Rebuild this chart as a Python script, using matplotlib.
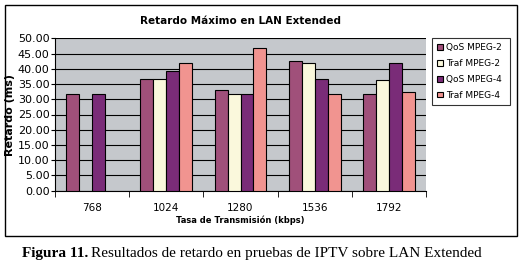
import matplotlib.pyplot as plt
import numpy as np

# Datos
tasas = ['768', '1024', '1280', '1536', '1792']
series = ['QoS MPEG-2', 'Traf MPEG-2', 'QoS MPEG-4', 'Traf MPEG-4']
qos_mpeg2 = [31.6, 36.5, 33.2, 42.7, 31.6]
traf_mpeg2 = [0.0, 36.5, 31.6, 41.9, 36.2]
qos_mpeg4 = [31.6, 39.2, 31.6, 36.6, 41.9]
traf_mpeg4 = [0.0, 41.8, 46.7, 31.6, 32.3]
colores = ['#A0507A', '#FAF8DC', '#7A2C78', '#F19490']

fig = plt.figure(figsize=(5.23, 2.69), dpi=100)
ax = fig.add_axes([55 / 523, 1 - 190.7 / 269, 371 / 523, 152.4 / 269])

# marco exterior del grafico
fig.patches.append(plt.Rectangle((5 / 523, 1 - 236 / 269), 512 / 523, 231 / 269,
                                 transform=fig.transFigure, fill=False,
                                 edgecolor='black', linewidth=1))

x = np.arange(len(tasas))
w = 0.175
for i, (vals, nombre) in enumerate(zip([qos_mpeg2, traf_mpeg2, qos_mpeg4, traf_mpeg4], series)):
    vals = np.array(vals)
    mask = vals > 0
    ax.bar(x[mask] + (i - 1.5) * w, vals[mask], width=w, color=colores[i],
           edgecolor='black', linewidth=0.8, label=nombre, zorder=3)

ax.set_facecolor('#C5C8CC')
ax.set_ylim(0, 50)
ax.set_xlim(-0.5, len(tasas) - 0.5)
ax.set_yticks(np.arange(0, 50.01, 5))
ax.set_yticklabels(['%.2f' % v for v in np.arange(0, 50.01, 5)], fontsize=8)
ax.yaxis.grid(True, color='black', linewidth=0.8, zorder=1)
ax.set_xticks(x)
ax.set_xticklabels(tasas, fontsize=7.5)
ax.tick_params(axis='x', length=0, pad=9)
ax.set_xticks(np.arange(-0.5, len(tasas), 1), minor=True)
ax.tick_params(axis='x', which='minor', length=4, direction='out')
ax.tick_params(axis='y', length=3, direction='out', pad=1)
for s in ['top', 'right']:
    ax.spines[s].set_visible(False)
ax.spines['left'].set_linewidth(0.8)
ax.spines['bottom'].set_linewidth(0.8)

ax.set_ylabel('Retardo (ms)', fontsize=8, fontweight='bold', labelpad=2)
ax.set_xlabel('Tasa de Transmisión (kbps)', fontsize=6, fontweight='bold', labelpad=2)
fig.text(240 / 523, 1 - 21 / 269, 'Retardo Máximo en LAN Extended', ha='center', va='center',
         fontsize=7.5, fontweight='bold')

leg = ax.legend(loc='upper left', bbox_to_anchor=(432 / 523, 1 - 106 / 269, 78 / 523, 68 / 269),
                bbox_transform=fig.transFigure, mode='expand', fontsize=6.5, frameon=True,
                fancybox=False, edgecolor='black', handlelength=0.6, handleheight=0.6,
                handletextpad=0.4, labelspacing=0.75, borderpad=0.6, borderaxespad=0)
leg.get_frame().set_linewidth(0.8)

# pie de figura: parte en negrita y resto normal
t1 = fig.text(22 / 523, 1 - 253 / 269, 'Figura 11.', ha='left', va='center',
              fontsize=11, family='Liberation Serif', fontweight='bold')
fig.canvas.draw()
bb = t1.get_window_extent()
fig.text((bb.x1 + 3) / 523, 1 - 253 / 269, 'Resultados de retardo en pruebas de IPTV sobre LAN Extended',
         ha='left', va='center', fontsize=11, family='Liberation Serif')

plt.savefig('out.png', dpi=100)
